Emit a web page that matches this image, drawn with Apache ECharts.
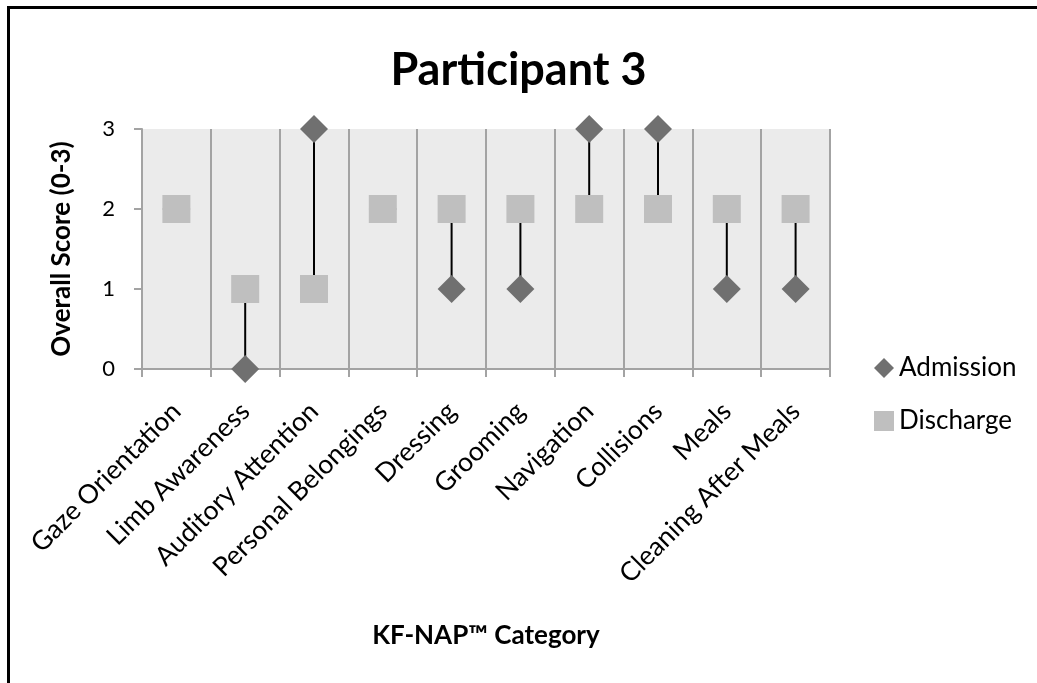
<!DOCTYPE html>
<html>
<head>
<meta charset="utf-8">
<script src="https://cdn.jsdelivr.net/npm/echarts@6/dist/echarts.min.js"></script>
<style>
  html, body { margin: 0; padding: 0; background: #ffffff; }
  #chart { width: 1037px; height: 683px; }
</style>
</head>
<body>
<div id="chart"></div>
<script>
// KF-NAP category scores for one participant, admission vs discharge
const categories = [
  'Gaze Orientation', 'Limb Awareness', 'Auditory Attention', 'Personal Belongings',
  'Dressing', 'Grooming', 'Navigation', 'Collisions', 'Meals', 'Cleaning After Meals'
];
const admission = [2, 0, 3, 2, 1, 1, 3, 3, 1, 1];
const discharge = [2, 1, 1, 2, 2, 2, 2, 2, 2, 2];
const yMin = 0;
const yMax = 3;
const yStep = 1;

const FONT = 'Lato';
const gridColor = '#a3a3a3';

const chart = echarts.init(document.getElementById('chart'), null, { renderer: 'canvas' });

chart.setOption({
  backgroundColor: '#ffffff',
  animation: false,
  textStyle: { fontFamily: FONT, color: '#000' },
  title: {
    text: 'Participant 3',
    left: 'center',
    top: 43,
    textStyle: { fontFamily: FONT, fontSize: 45, fontWeight: 'bold', color: '#000' }
  },
  graphic: [{
    type: 'rect',
    shape: { x: 8.5, y: 7.5, width: 1200, height: 900 },
    style: { fill: 'none', stroke: '#000', lineWidth: 3 },
    silent: true
  }],
  legend: {
    orient: 'vertical',
    left: 874,
    top: 355,
    padding: 0,
    itemGap: 27,
    itemWidth: 20,
    itemHeight: 20,
    data: [
      { name: 'Admission', icon: 'diamond' },
      { name: 'Discharge', icon: 'rect' }
    ],
    textStyle: { fontFamily: FONT, fontSize: 26, color: '#000', lineHeight: 26 }
  },
  grid: {
    left: 142, right: 207, top: 129, bottom: 314,
    show: true, backgroundColor: '#ebebeb', borderWidth: 0
  },
  xAxis: {
    type: 'category',
    data: categories,
    boundaryGap: true,
    name: 'KF-NAP™ Category',
    nameLocation: 'middle',
    nameGap: 254,
    nameTextStyle: { fontFamily: FONT, fontSize: 26, fontWeight: 'bold', color: '#000' },
    axisLine: { show: true, lineStyle: { color: gridColor, width: 2 } },
    axisTick: { show: true, alignWithLabel: false, length: 8, lineStyle: { color: gridColor, width: 2 } },
    splitLine: { show: true, lineStyle: { color: gridColor, width: 2 } },
    axisLabel: {
      interval: 0,
      rotate: 45,
      margin: 38,
      fontFamily: FONT,
      fontSize: 26.5,
      color: '#000'
    }
  },
  yAxis: {
    type: 'value',
    min: yMin,
    max: yMax,
    interval: yStep,
    name: 'Overall Score (0-3)',
    nameLocation: 'middle',
    nameGap: 67,
    nameTextStyle: { fontFamily: FONT, fontSize: 26, fontWeight: 'bold', color: '#000' },
    axisLine: { show: true, lineStyle: { color: gridColor, width: 2 } },
    axisTick: { show: true, length: 8, lineStyle: { color: gridColor, width: 2 } },
    splitLine: { show: false },
    axisLabel: { margin: 27, fontFamily: FONT, fontSize: 22, color: '#000' }
  },
  series: [
    {
      // connector between admission and discharge scores
      type: 'custom',
      name: 'change',
      silent: true,
      z: 1,
      data: categories.map((c, i) => [i, admission[i], discharge[i]]),
      encode: { x: 0, y: [1, 2] },
      renderItem: function (params, api) {
        const a = api.coord([api.value(0), api.value(1)]);
        const b = api.coord([api.value(0), api.value(2)]);
        return {
          type: 'line',
          shape: { x1: a[0], y1: a[1], x2: b[0], y2: b[1] },
          style: { stroke: '#000', lineWidth: 2 }
        };
      }
    },
    {
      name: 'Admission',
      type: 'scatter',
      symbol: 'diamond',
      symbolSize: 28,
      z: 2,
      itemStyle: { color: '#707070', opacity: 1 },
      data: admission
    },
    {
      name: 'Discharge',
      type: 'scatter',
      symbol: 'rect',
      symbolSize: 28,
      z: 3,
      itemStyle: { color: '#bfbfbf', opacity: 1 },
      data: discharge
    }
  ]
});
</script>
</body>
</html>
